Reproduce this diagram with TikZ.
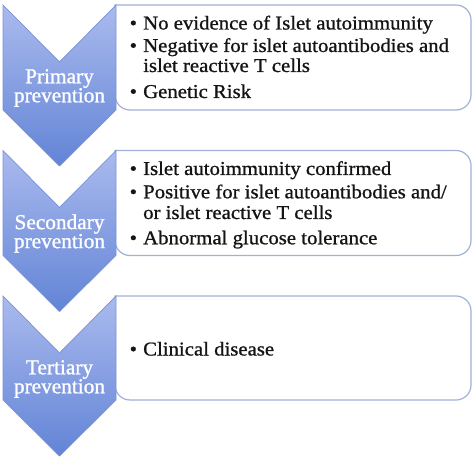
\documentclass[tikz,border=0pt]{standalone}
\usepackage{fontspec}
\setmainfont{Liberation Serif}
\newfontfamily\boxfont[FakeStretch=1.06,FakeBold=0.9]{Liberation Serif}
\newfontfamily\labfont[FakeBold=1.1]{Liberation Serif}
\definecolor{chtop}{RGB}{170,186,238}
\definecolor{chbot}{RGB}{98,132,214}
\definecolor{chline}{RGB}{122,146,214}
\definecolor{boxline}{RGB}{160,176,216}
\newcommand\mybul{\makebox[13.5bp][l]{•}}
\newcommand\myind{\hspace*{13.5bp}}
\begin{document}
\begin{tikzpicture}[x=1bp,y=-1bp,
  chev/.style={top color=chtop,bottom color=chbot,draw=chline,line width=0.7bp,line join=miter},
  tbox/.style={fill=white,draw=boxline,line width=1.2bp},
  lab/.style={anchor=center,align=center,inner sep=0pt,text=white,font=\labfont\fontsize{21.3bp}{19bp}\selectfont},
  txt/.style={anchor=base west,inner sep=0pt,text=black!92,font=\boxfont\fontsize{19.6bp}{20bp}\selectfont}]
\useasboundingbox (0,0) rectangle (474,459);
% boxes
\path[tbox] (115,5) [rounded corners=15bp] -- (471,5) -- (471,110) -- (115,110) [sharp corners] -- cycle;
\path[tbox] (115,150.5) [rounded corners=15bp] -- (471,150.5) -- (471,255.5) -- (115,255.5) [sharp corners] -- cycle;
\path[tbox] (115,296) [rounded corners=15bp] -- (471,296) -- (471,400) -- (115,400) [sharp corners] -- cycle;
% chevrons
\path[chev] (3,5) -- (59.5,62) -- (116,5) -- (116,110) -- (59.5,166) -- (3,110) -- cycle;
\path[chev] (3,150.5) -- (59.5,207.5) -- (116,150.5) -- (116,255.5) -- (59.5,311.5) -- (3,255.5) -- cycle;
\path[chev] (3,296) -- (59.5,353) -- (116,296) -- (116,400) -- (59.5,456) -- (3,400) -- cycle;
% labels
\node[lab] (l1) at (59.5,88) {Primary\\prevention};
\node[lab] (l2) at (59.5,233.5) {Secondary\\prevention};
\node[lab] (l3) at (59.5,379) {Tertiary\\prevention};
% texts
\node[txt] (t11) at (129.5,29.5) {\mybul No evidence of Islet autoimmunity};
\node[txt] (t12) at (129.5,52) {\mybul Negative for islet autoantibodies and};
\node[txt] (t13) at (129.5,72) {\myind islet reactive T cells};
\node[txt] (t14) at (129.5,98) {\mybul Genetic Risk};
\node[txt] (t21) at (129.5,175) {\mybul Islet autoimmunity confirmed};
\node[txt] (t22) at (129.5,198.3) {\mybul Positive for islet autoantibodies and/};
\node[txt] (t23) at (129.5,219) {\myind or islet reactive T cells};
\node[txt] (t24) at (129.5,244.3) {\mybul Abnormal glucose tolerance};
\node[txt] (t31) at (129.5,355.5) {\mybul Clinical disease};
\end{tikzpicture}
\end{document}
